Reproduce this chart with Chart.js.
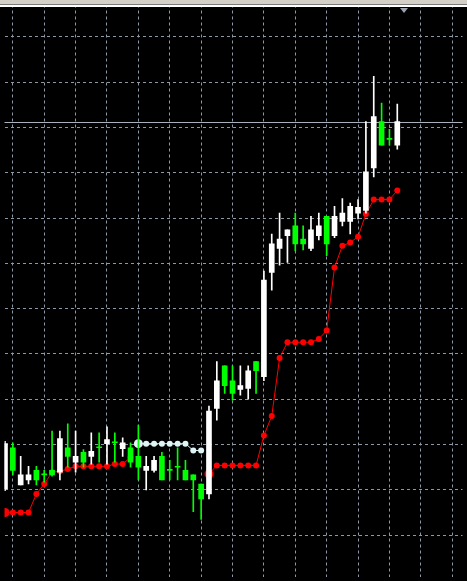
<!DOCTYPE html>
<html>
<head>
<meta charset="utf-8">
<script src="https://cdn.jsdelivr.net/npm/chart.js@4.4.1/dist/chart.umd.min.js"></script>
<style>
  html, body { margin: 0; padding: 0; background: #000; }
  #wrap { position: relative; width: 467px; height: 581px; overflow: hidden; }
  #chart { position: absolute; left: 0; top: 0; }
  .bar-top { position: absolute; left: 0; top: 0; width: 467px; height: 4px; background: #d4d0c8; }
  .bar-dark { position: absolute; left: 0; top: 4px; width: 467px; height: 1px; background: #7a7a7a; }
  .bar-white { position: absolute; left: 0; top: 5px; width: 467px; height: 2px; background: #ffffff; }
  .shift { position: absolute; left: 400px; top: 8px; width: 0; height: 0;
    border-left: 4px solid transparent; border-right: 4px solid transparent; border-top: 5px solid #9aa4ae; }
</style>
</head>
<body>
<div id="wrap">
  <canvas id="chart" width="467" height="581"></canvas>
  <div class="bar-top"></div>
  <div class="bar-dark"></div>
  <div class="bar-white"></div>
  <div class="shift"></div>
</div>
<script>
// candles, oldest first
const OPEN = [20.2, 29.3, 21.1, 22.2, 24.3, 23.3, 24.3, 23.9, 29.3, 26.1,
  28.3, 27.4, 29.3, 30.2, 30.4, 29.1, 29.3, 27.4, 24.3, 24.3,
  27.4, 24.3, 25.0, 24.3, 23.3, 21.3, 19.1, 38.0, 47.4, 44.1,
  42.2, 42.4, 48.3, 45.0, 68.0, 73.3, 76.1, 78.3, 75.4, 73.3,
  76.1, 80.4, 76.1, 79.3, 79.3, 81.1, 81.7, 91.1, 101.3, 97.4,
  96.1];
const HIGH = [30.7, 30.4, 27.4, 25.2, 25.2, 24.3, 33.0, 33.0, 34.6, 33.0,
  28.9, 32.6, 32.6, 33.9, 32.6, 31.5, 30.4, 34.3, 27.4, 27.4,
  28.3, 26.5, 29.3, 26.5, 23.3, 21.3, 38.5, 48.3, 47.4, 47.4,
  47.4, 47.4, 48.3, 68.3, 76.5, 81.1, 77.4, 81.1, 78.3, 80.4,
  81.1, 80.4, 82.6, 84.3, 83.3, 84.1, 101.3, 111.3, 105.4, 99.6,
  105.2];
const LOW = [19.8, 23.3, 21.1, 21.3, 21.1, 21.7, 23.0, 22.2, 25.0, 23.9,
  25.0, 25.7, 26.1, 25.7, 26.1, 27.4, 25.0, 22.2, 20.0, 23.9,
  22.2, 22.2, 22.2, 22.2, 15.2, 13.5, 18.0, 35.4, 41.3, 39.8,
  40.9, 40.0, 41.3, 44.1, 64.1, 69.6, 70.2, 72.8, 73.0, 72.8,
  75.2, 71.7, 75.7, 78.3, 76.5, 79.8, 81.1, 89.1, 96.1, 96.1,
  95.2];
const CLOSE = [30.2, 24.3, 23.3, 23.3, 22.2, 23.3, 23.3, 31.3, 27.4, 27.4,
  26.1, 28.5, 29.3, 31.1, 30.4, 30.4, 26.1, 25.0, 25.2, 26.5,
  22.2, 24.3, 25.0, 22.2, 22.2, 18.0, 37.4, 44.1, 43.0, 41.3,
  43.0, 46.3, 46.3, 66.3, 74.3, 75.4, 77.4, 74.3, 74.3, 77.4,
  78.3, 74.3, 80.4, 81.1, 82.6, 82.4, 90.2, 102.4, 96.1, 97.4,
  101.3];

// trailing stop: red under price, white above price
const STOP_UP = [15.0, 15.0, 15.0, 15.0, 19.1, 21.3, 23.9, 24.1, 24.6, 25.2,
  25.2, 25.2, 25.2, 25.2, 25.7, 25.7, 27.2, null, null, null,
  null, null, null, null, null, null, 23.5, 25.4, 25.4, 25.4,
  25.4, 25.4, 25.4, 32.0, 36.3, 49.1, 52.6, 52.6, 52.6, 52.6,
  53.3, 55.2, 69.1, 73.9, 74.6, 75.9, 80.9, 84.1, 84.1, 84.1,
  86.1];
const STOP_DOWN = [null, null, null, null, null, null, null, null, null, null,
  null, null, null, null, null, null, null, 30.2, 30.2, 30.2,
  30.2, 30.2, 30.2, 30.2, 28.7, 28.7, null, null, null, null,
  null, null, null, null, null, null, null, null, null, null,
  null, null, null, null, null, null, null, null, null, null,
  null];

const X_TICKS = [1, 5, 9, 13, 17, 21, 25, 29, 33, 37, 41, 45, 49, 53, 57];
const Y_TICKS = [10, 20, 30, 40, 50, 60, 70, 80, 90, 100, 110, 120];

const BULL = '#ffffff';
const BEAR = '#00ff00';
const GRID = '#8c98a6';

const candleColor = (i) => (CLOSE[i] > OPEN[i] ? BULL : BEAR);

// grey bid line at last close, under the candles
const bidLine = {
  id: 'bidLine',
  beforeDatasetsDraw(chart) {
    const { ctx, chartArea, scales } = chart;
    const y = Math.round(scales.y.getPixelForValue(CLOSE[CLOSE.length - 1])) + 0.5;
    ctx.save();
    ctx.strokeStyle = '#a9b2bc';
    ctx.lineWidth = 1;
    ctx.beginPath();
    ctx.moveTo(chartArea.left, y);
    ctx.lineTo(chartArea.right, y);
    ctx.stroke();
    ctx.restore();
  },
};

const startRadius = (arr, small, big) => (c) => {
  const i = c.dataIndex;
  return (i === 0 || arr[i - 1] === null) ? big : small;
};

new Chart(document.getElementById('chart'), {
  data: {
    datasets: [
      {
        type: 'bar',
        order: 0,
        data: OPEN.map((o, i) => ({ x: i, y: [o, CLOSE[i]] })),
        backgroundColor: (c) => candleColor(c.dataIndex),
        barThickness: 5,
        minBarLength: 1,
        grouped: false,
        borderWidth: 0,
      },
      {
        type: 'bar',
        order: 1,
        data: LOW.map((l, i) => ({ x: i, y: [l, HIGH[i]] })),
        backgroundColor: (c) => candleColor(c.dataIndex),
        barThickness: 1,
        grouped: false,
        borderWidth: 0,
      },
      {
        type: 'line',
        order: 2,
        data: STOP_UP.map((v, i) => ({ x: i, y: v })),
        borderColor: '#ff0000',
        backgroundColor: '#ff0000',
        borderWidth: 1,
        pointRadius: startRadius(STOP_UP, 3, 4.5),
        pointBorderWidth: 0,
        spanGaps: false,
        tension: 0,
      },
      {
        type: 'line',
        order: 3,
        data: STOP_DOWN.map((v, i) => ({ x: i, y: v })),
        borderColor: '#dff4f4',
        backgroundColor: '#dff4f4',
        borderWidth: 1,
        pointRadius: startRadius(STOP_DOWN, 3, 4.5),
        pointBorderWidth: 0,
        spanGaps: false,
        tension: 0,
      },
    ],
  },
  options: {
    responsive: false,
    animation: false,
    events: [],
    layout: { padding: 0 },
    plugins: { legend: { display: false }, tooltip: { enabled: false } },
    scales: {
      x: {
        type: 'linear',
        min: -0.0625,
        max: 58.3125,
        offset: false,
        afterBuildTicks: (s) => { s.ticks = X_TICKS.map((v) => ({ value: v })); },
        ticks: { display: false },
        grid: { color: GRID, drawTicks: false, offset: false },
        border: { display: false, dash: [3, 3] },
      },
      y: {
        type: 'linear',
        min: 0.87,
        max: 127.17,
        beginAtZero: false,
        afterBuildTicks: (s) => { s.ticks = Y_TICKS.map((v) => ({ value: v })); },
        ticks: { display: false },
        grid: { color: GRID, drawTicks: false },
        border: { display: false, dash: [3, 3] },
      },
    },
  },
  plugins: [bidLine],
});
</script>
</body>
</html>
